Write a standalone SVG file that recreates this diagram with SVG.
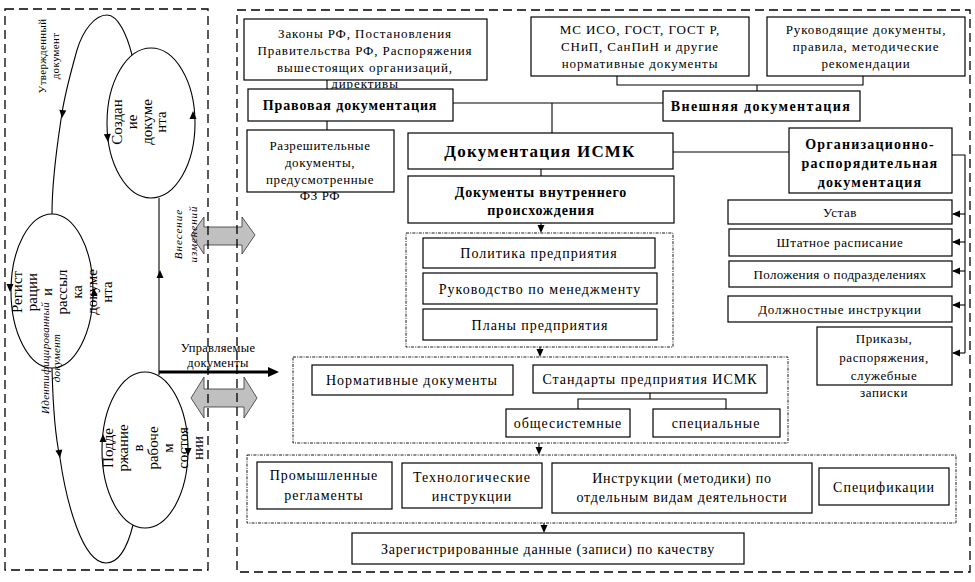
<svg xmlns="http://www.w3.org/2000/svg" width="975" height="582" viewBox="0 0 975 582" font-family="Liberation Serif, DejaVu Serif, serif">
<style>
text{font-family:'Liberation Serif','DejaVu Serif',serif;fill:#000;text-anchor:middle}
.a{font-size:13px;letter-spacing:0.6px}
.b{font-size:14px;letter-spacing:1px}
.bd{font-size:14px;font-weight:bold;letter-spacing:0.8px}
.big{font-size:17px;font-weight:bold;letter-spacing:1.2px}
.rot{font-size:15px}
.sm{font-size:11px;letter-spacing:0.3px}
.box{fill:#fff;stroke:#000;stroke-width:1.2}
.panel{fill:none;stroke:#000;stroke-width:1.3;stroke-dasharray:9,5}
.grp{fill:none;stroke:#000;stroke-width:0.9;stroke-dasharray:3,1.2,1,1.2}
.ln{fill:none;stroke:#000;stroke-width:1.1}
.blk{fill:#c0c0c0;stroke:#333;stroke-width:0.8}
</style>
<defs>
<path id="ah" d="M0,0 L-3.5,-8 L3.5,-8 Z" fill="#000"/>
</defs>

<!-- block double arrows -->
<g id="dbl-arrows">
<polygon class="blk" points="191,235 204,217 204,227 242,227 242,217 255,235 242,254 242,245 204,245 204,254"/>
<polygon class="blk" points="191,398 204,377 204,389 244,389 244,377 257,398 244,418 244,407 204,407 204,418"/>
</g>

<!-- panels -->
<rect class="panel" x="5" y="9" width="203" height="561"/>
<rect class="panel" x="237" y="10" width="733" height="562"/>

<!-- left panel cycle -->
<g id="cycle-connectors">
<path class="ln" d="M132,55 C127,35 118,15 107,15 C95,15 83,30 77,50 C70,75 64,100 62,113 C58,140 52,175 52,214"/>
<path class="ln" d="M52,368 C53,410 56,440 60,458 C66,500 82,563 106,563 C120,563 128,545 133,525"/>
<line class="ln" x1="159" y1="198" x2="159" y2="375"/>
<line x1="159" y1="372" x2="270" y2="372" stroke="#000" stroke-width="3"/>
<path d="M279,372 L268,367 L268,377 Z" fill="#000"/>
<use href="#ah" transform="translate(62,118) rotate(6)"/>
<use href="#ah" transform="translate(60,458) rotate(-8)"/>
<use href="#ah" transform="translate(108,142) rotate(-5)"/>
<use href="#ah" transform="translate(193,111) rotate(180)"/>
<use href="#ah" transform="translate(10,292)"/>
<use href="#ah" transform="translate(94,288) rotate(180)"/>
<use href="#ah" transform="translate(103,434) rotate(180)"/>
<use href="#ah" transform="translate(188,456)"/>
<use href="#ah" transform="translate(160,270) rotate(180)"/>
</g>

<g id="n-sozdanie">
<ellipse class="ln" cx="151" cy="123" rx="44" ry="75"/>
<text class="rot" transform="translate(122,122) rotate(-90)"><tspan x="0" y="0">Создан</tspan><tspan x="0" y="15">ие</tspan><tspan x="0" y="30">докуме</tspan><tspan x="0" y="44">нта</tspan></text>
</g>
<g id="n-registr">
<ellipse class="ln" cx="52" cy="291" rx="41" ry="77"/>
<text class="rot" transform="translate(22,292) rotate(-90)"><tspan x="0" y="0">Регист</tspan><tspan x="0" y="15">рации</tspan><tspan x="0" y="30">и</tspan><tspan x="0" y="45">рассыл</tspan><tspan x="0" y="60">ка</tspan><tspan x="0" y="75">докуме</tspan><tspan x="0" y="90">нта</tspan></text>
</g>
<g id="n-podderzh">
<ellipse class="ln" cx="145" cy="450" rx="43" ry="78"/>
<text class="rot" transform="translate(113,448) rotate(-90)"><tspan x="0" y="0">Подде</tspan><tspan x="0" y="15">ржание</tspan><tspan x="0" y="30">в</tspan><tspan x="0" y="45">рабоче</tspan><tspan x="0" y="60">м</tspan><tspan x="0" y="75">состоя</tspan><tspan x="0" y="90">нии</tspan></text>
</g>
<g id="labels-left">
<text class="sm" transform="translate(46,56) rotate(-90)"><tspan x="0" y="0">Утвержденный</tspan><tspan x="0" y="13">документ</tspan></text>
<text class="sm" font-style="italic" transform="translate(49,358) rotate(-90)"><tspan x="0" y="0">Идентифицированный</tspan><tspan x="0" y="11">документ</tspan></text>
<text class="sm" font-style="italic" style="letter-spacing:1px" transform="translate(182,234) rotate(-90)"><tspan x="0" y="0">Внесение</tspan><tspan x="0" y="15">изменений</tspan></text>
<text style="font-size:12.5px;letter-spacing:0.3px"><tspan x="218" y="352">Управляемые</tspan><tspan x="218" y="367">документы</tspan></text>
</g>

<!-- right panel connectors -->
<g id="connectors">
<polyline class="ln" points="327,80 327,89"/>
<polyline class="ln" points="327,121 327,130"/>
<polyline class="ln" points="453,103 663,103"/>
<polyline class="ln" points="552,103 552,133"/>
<polyline class="ln" points="617,76 617,85 863,85 863,76"/>
<polyline class="ln" points="757,85 757,91"/>
<polyline class="ln" points="673,152 789,152"/>
<polyline class="ln" points="952,155 965,155 965,353"/>
<polyline class="ln" points="965,214 953,214"/>
<polyline class="ln" points="965,242 953,242"/>
<polyline class="ln" points="965,271 953,271"/>
<polyline class="ln" points="965,305 953,305"/>
<polyline class="ln" points="965,353 953,353"/>
<use href="#ah" transform="translate(952,214) rotate(90)"/>
<use href="#ah" transform="translate(952,242) rotate(90)"/>
<use href="#ah" transform="translate(952,271) rotate(90)"/>
<use href="#ah" transform="translate(952,305) rotate(90)"/>
<use href="#ah" transform="translate(952,353) rotate(90)"/>
<polyline class="ln" points="541,169 541,176"/>
<polyline class="ln" points="541,223 541,227"/>
<use href="#ah" transform="translate(541,233)"/>
<polyline class="ln" points="540,347 540,351"/>
<use href="#ah" transform="translate(540,357)"/>
<polyline class="ln" points="650,393 650,399"/>
<polyline class="ln" points="578,409 578,399 726,399 726,409"/>
<polyline class="ln" points="539,443 539,448"/>
<use href="#ah" transform="translate(539,455)"/>
<polyline class="ln" points="544,523 544,527"/>
<use href="#ah" transform="translate(544,533)"/>
</g>

<!-- groups -->
<rect class="grp" x="406" y="233" width="267" height="114"/>
<rect class="grp" x="293" y="357" width="495" height="86"/>
<rect class="grp" x="247" y="455" width="709" height="68"/>

<g id="n-zakony"><rect class="box" x="244" y="19" width="243" height="61"/>
<text style="font-size:13px;letter-spacing:0.9px"><tspan x="365" y="38">Законы РФ, Постановления</tspan><tspan x="365" y="55">Правительства РФ, Распоряжения</tspan><tspan x="365" y="72">вышестоящих организаций,</tspan><tspan x="365" y="88">директивы</tspan></text></g>
<g id="n-pravo"><rect class="box" x="248" y="89" width="205" height="32"/><text class="bd" style="letter-spacing:0.9px" x="350" y="110">Правовая документация</text></g>
<g id="n-razresh"><rect class="box" x="247" y="130" width="147" height="62"/>
<text class="a"><tspan x="320" y="150">Разрешительные</tspan><tspan x="320" y="167">документы,</tspan><tspan x="320" y="184">предусмотренные</tspan><tspan x="320" y="200">ФЗ РФ</tspan></text></g>
<g id="n-mciso"><rect class="box" x="531" y="17" width="218" height="59"/>
<text style="font-size:13px;letter-spacing:0.9px"><tspan x="640" y="34">МС ИСО, ГОСТ, ГОСТ Р,</tspan><tspan x="640" y="51">СНиП, СанПиН и другие</tspan><tspan x="640" y="68">нормативные документы</tspan></text></g>
<g id="n-rukovod"><rect class="box" x="767" y="17" width="198" height="59"/>
<text style="font-size:13px;letter-spacing:0.9px"><tspan x="866" y="34">Руководящие документы,</tspan><tspan x="866" y="51">правила, методические</tspan><tspan x="866" y="68">рекомендации</tspan></text></g>
<g id="n-vnesh"><rect class="box" x="663" y="91" width="197" height="30"/><text class="bd" style="letter-spacing:1.4px" x="761" y="111">Внешняя документация</text></g>
<g id="n-ismk"><rect class="box" x="408" y="133" width="265" height="36"/><text class="big" x="540" y="157">Документация ИСМК</text></g>
<g id="n-org"><rect class="box" x="789" y="128" width="163" height="65"/>
<text class="bd" style="letter-spacing:1.2px"><tspan x="870" y="149">Организационно-</tspan><tspan x="870" y="168">распорядительная</tspan><tspan x="870" y="187">документация</tspan></text></g>
<g id="n-vnutr"><rect class="box" x="408" y="176" width="266" height="47"/>
<text class="bd"><tspan x="541" y="197">Документы внутреннего</tspan><tspan x="541" y="215">происхождения</tspan></text></g>
<g id="n-ustav"><rect class="box" x="728" y="200" width="224" height="24"/><text class="a" x="840" y="217">Устав</text></g>
<g id="n-shtat"><rect class="box" x="729" y="229" width="223" height="27"/><text class="a" x="840" y="247">Штатное расписание</text></g>
<g id="n-polozh"><rect class="box" x="729" y="261" width="223" height="26"/><text class="a" style="letter-spacing:0.35px" x="840" y="279">Положения о подразделениях</text></g>
<g id="n-dolzh"><rect class="box" x="728" y="296" width="224" height="26"/><text class="a" style="letter-spacing:0.8px" x="840" y="314">Должностные инструкции</text></g>
<g id="n-prikazy"><rect class="box" x="817" y="327" width="135" height="58"/>
<text class="a"><tspan x="884" y="343">Приказы,</tspan><tspan x="884" y="362">распоряжения,</tspan><tspan x="884" y="380">служебные</tspan><tspan x="884" y="397">записки</tspan></text></g>
<g id="n-politika"><rect class="box" x="423" y="238" width="232" height="30"/><text class="b" x="539" y="258">Политика предприятия</text></g>
<g id="n-rukmen"><rect class="box" x="423" y="273" width="234" height="31"/><text class="b" x="540" y="294">Руководство по менеджменту</text></g>
<g id="n-plany"><rect class="box" x="423" y="309" width="234" height="31"/><text class="b" x="540" y="330">Планы предприятия</text></g>
<g id="n-normdoc"><rect class="box" x="312" y="365" width="201" height="30"/><text class="b" x="412" y="385">Нормативные документы</text></g>
<g id="n-stp"><rect class="box" x="533" y="365" width="234" height="28"/><text class="b" x="650" y="384">Стандарты предприятия ИСМК</text></g>
<g id="n-obsh"><rect class="box" x="506" y="409" width="124" height="28"/><text class="b" x="568" y="428">общесистемные</text></g>
<g id="n-spec"><rect class="box" x="653" y="409" width="127" height="28"/><text class="b" x="716" y="428">специальные</text></g>
<g id="n-prom"><rect class="box" x="257" y="462" width="135" height="47"/>
<text class="b"><tspan x="324" y="480">Промышленные</tspan><tspan x="324" y="500">регламенты</tspan></text></g>
<g id="n-tehn"><rect class="box" x="402" y="463" width="140" height="45"/>
<text class="b"><tspan x="472" y="482">Технологические</tspan><tspan x="472" y="501">инструкции</tspan></text></g>
<g id="n-instr"><rect class="box" x="552" y="463" width="260" height="50"/>
<text class="b" style="letter-spacing:0.8px"><tspan x="682" y="483">Инструкции (методики) по</tspan><tspan x="682" y="502">отдельным видам деятельности</tspan></text></g>
<g id="n-specif"><rect class="box" x="819" y="468" width="130" height="37"/><text class="b" x="884" y="492">Спецификации</text></g>
<g id="n-zareg"><rect class="box" x="352" y="533" width="392" height="31"/><text class="b" style="letter-spacing:0.8px" x="548" y="554">Зарегистрированные данные (записи) по качеству</text></g>
</svg>
